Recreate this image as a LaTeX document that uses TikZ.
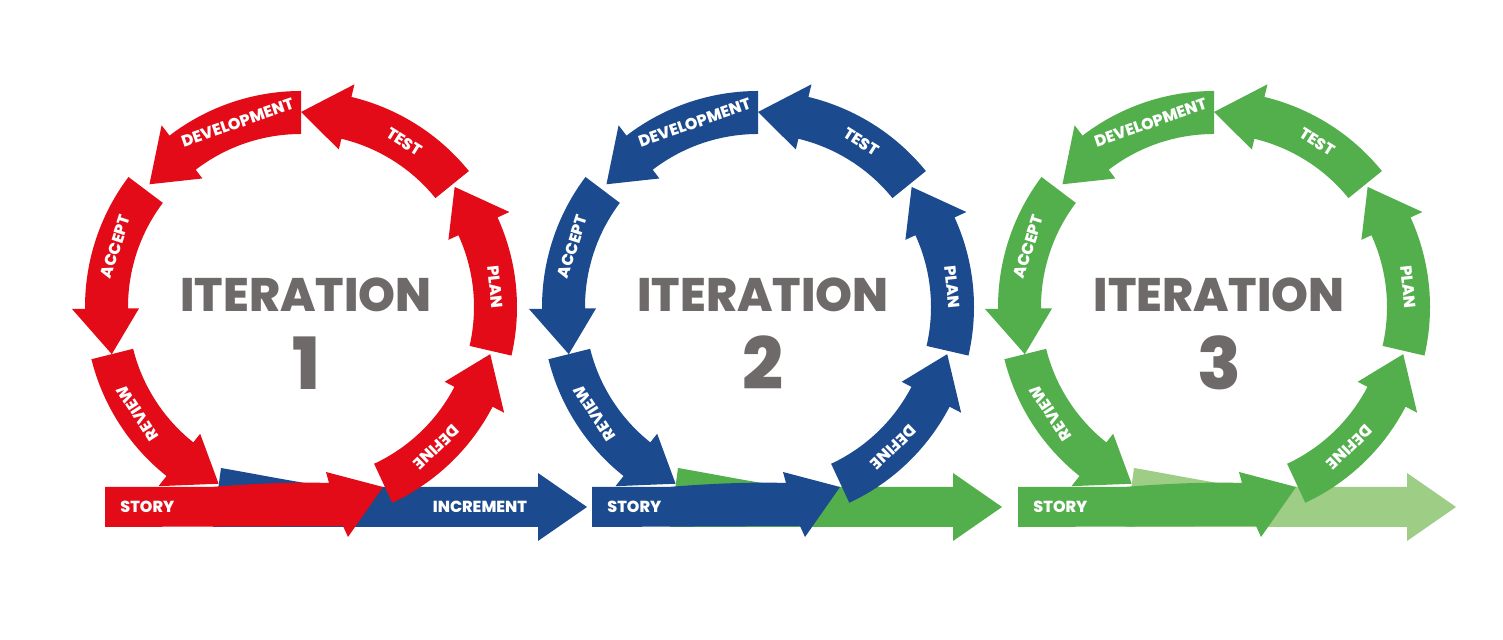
\documentclass[tikz,border=0pt]{standalone}
\usepackage{fontspec}
\setmainfont{Poppins}
\IfFontExistsTF{Poppins ExtraBold}
  {\newfontfamily\heavy{Poppins ExtraBold}}
  {\newfontfamily\heavy{Poppins}[UprightFont=*, FakeBold=1.2]}
\usetikzlibrary{calc}
\definecolor{itRed}{RGB}{227,11,23}
\definecolor{itBlue}{RGB}{28,74,143}
\definecolor{itGreen}{RGB}{82,175,76}
\definecolor{itPale}{RGB}{158,205,134}
\definecolor{itGray}{RGB}{110,106,105}
\tikzset{
  lbl/.style={text=white,inner sep=0pt,font=\heavy\fontsize{8}{8}\selectfont},
  ttl/.style={text=itGray,inner sep=0pt,font=\heavy\fontsize{23.5}{24}\selectfont},
  num/.style={text=itGray,inner sep=0pt,font=\heavy\fontsize{36}{36}\selectfont},
}
% ring radii (px)
\def\rIn{173}\def\rOut{216}\def\rMid{195}\def\hIn{162}\def\hOut{229}
% #1 tail angle, #2 colour
\newcommand{\ringarrow}[2]{%
  \fill[#2] (#1:\rOut) arc[start angle=#1,end angle=#1+37.5,radius=\rOut]
    -- (#1+37.5:\hOut) -- (#1+51:\rMid) -- (#1+37.5:\hIn) -- (#1+37.5:\rIn)
    arc[start angle=#1+37.5,end angle=#1,radius=\rIn] -- cycle;}

\begin{document}
\begin{tikzpicture}[x=0.5pt,y=0.5pt]
  \fill[white] (0,0) rectangle (1503,640);
  \useasboundingbox (0,0) rectangle (1503,640);

  \foreach \cx/\num/\main/\inc/\sx/\hx in
    {301/1/itRed/itBlue/-196/237, 758/2/itBlue/itGreen/-166/195,
     1214/3/itGreen/itPale/-196/193}{
  \begin{scope}[shift={(\cx,333)}]
    % increment bar (behind)
    \fill[\inc] (-88,-220) -- (-80,-161) .. controls (-40,-168) and (0,-176) .. (30,-180)
      -- (\hx,-180) -- (\hx,-166) -- (\hx+49,-200) -- (\hx,-234) -- (\hx,-220) -- cycle;
    % story bar
    \fill[\main] (\sx,-220) -- (\sx,-180) -- (-90,-180)
      .. controls (-40,-176) and (0,-175) .. (28,-176) -- (25,-165) -- (82,-180)
      -- (47,-230) -- (42,-219) -- cycle;
    \foreach \t/\w in {295/DEFINE,347/PLAN,39/TEST,90/DEVELOPMENT,143/ACCEPT,194/REVIEW}{
      \ringarrow{\t}{\main}
      \node[lbl,rotate=\t+19-90] (\w-\num) at (\t+19:\rMid) {\w};
    }
    \node[lbl,anchor=west] (story-\num) at (\sx+15,-200) {STORY};
    \node[ttl] (iter-\num) at (5,12) {ITERATION};
    \node[num] (n-\num) at (5,-56) {\num};
  \end{scope}}
  \node[lbl] (increment) at (480,133) {INCREMENT};
\end{tikzpicture}
\end{document}
